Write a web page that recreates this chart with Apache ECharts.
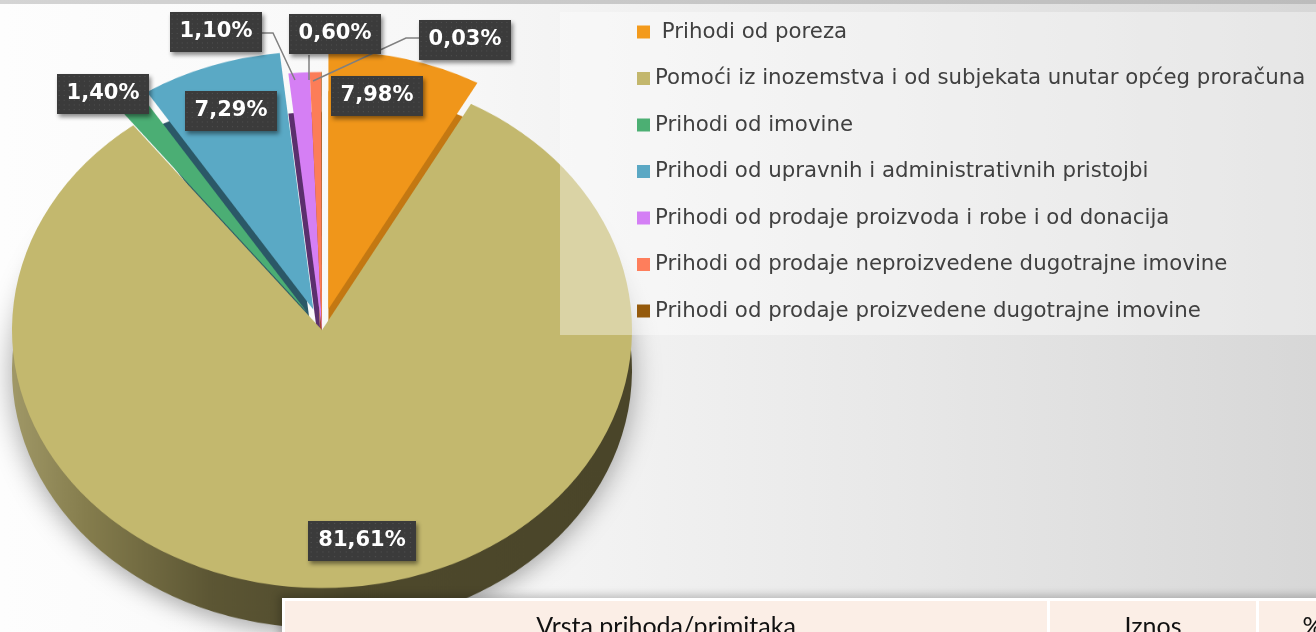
<!DOCTYPE html>
<html>
<head>
<meta charset="utf-8">
<script src="https://cdn.jsdelivr.net/npm/echarts@6/dist/echarts.min.js"></script>
<style>
html,body{margin:0;padding:0;background:#fff;}
#stage{position:relative;width:1316px;height:632px;overflow:hidden;
  background:linear-gradient(90deg,#fdfdfd 0%,#f7f7f7 35%,#e8e8e8 68%,#d7d7d7 100%);}
#topbar{position:absolute;left:0;top:0;width:1316px;height:4px;background:linear-gradient(90deg,#d4d4d4,#bcbcbc);}
#pieWrap{position:absolute;left:0;top:0;width:1316px;height:760px;transform:scaleY(0.8323);transform-origin:0 0;}
#pie{width:1316px;height:760px;}
#over{position:absolute;left:0;top:0;width:1316px;height:632px;}
#tbl{position:absolute;left:282px;top:598px;width:1040px;height:44px;background:#fbeee6;
  border-top:3px solid #fff;border-left:3px solid #fff;box-shadow:-3px -3px 8px rgba(0,0,0,0.22);
  font-family:Lato,'Open Sans',sans-serif;font-size:25px;color:#111;}
#tbl .c{position:absolute;top:0;height:44px;text-align:center;padding-top:9px;box-sizing:border-box;}
</style>
</head>
<body>
<div id="stage">
  <div id="topbar"></div>
  <div id="pieWrap"><div id="pie"></div></div>
  <div id="over"></div>
  <div id="tbl">
    <div class="c" style="left:0;width:762px;">Vrsta prihoda/primitaka</div>
    <div class="c" style="left:762px;width:209px;border-left:3px solid #fff;">Iznos</div>
    <div class="c" style="left:971px;width:110px;border-left:3px solid #fff;">%</div>
  </div>
</div>
<script>
// ---- data ----
const categories = [
  ' Prihodi od poreza',
  'Pomoći iz inozemstva i od subjekata unutar općeg proračuna',
  'Prihodi od imovine',
  'Prihodi od upravnih i administrativnih pristojbi',
  'Prihodi od prodaje proizvoda i robe i od donacija',
  'Prihodi od prodaje neproizvedene dugotrajne imovine',
  'Prihodi od prodaje proizvedene dugotrajne imovine'
];
const shares = [7.98, 81.61, 1.40, 7.29, 1.10, 0.60, 0.03];

// ---- styles ----
const topColors = ['#f0961a', '#c3b86e', '#4bae74', '#5aa9c5', '#d57ff4', '#fc7d58', '#955a0c'];
const sideColors = ['#c47812', {
    type: 'linear', x: 0, y: 0, x2: 1, y2: 0,
    colorStops: [
      {offset: 0, color: '#a09867'},
      {offset: 0.12, color: '#857d4d'},
      {offset: 0.32, color: '#5c5634'},
      {offset: 0.55, color: '#4e492c'},
      {offset: 1, color: '#4a4529'}
    ]
  }, '#1e4a30', '#2b5867', '#5b2f6d', '#a8492f', '#5a3506'];
const legendColors = ['#f39a1c', '#c3b76d', '#4caf73', '#5ba8c4', '#d47ff5', '#fe7e5c', '#955a0c'];
const explodeIdx = [0, 2, 3];

const SCALE = 0.8323;
const CX = 322, CY = 330, R = 310, DEPTH = 40;

// ---- pie body (drawn in a vertically squashed container to get an ellipse) ----
const pieChart = echarts.init(document.getElementById('pie'), null, {renderer: 'canvas'});
function bodySeries(colors, cy, z, withShadow) {
  return {
    type: 'pie', z: z, radius: R, center: [CX, cy],
    startAngle: 90, clockwise: true,
    selectedMode: 'multiple', selectedOffset: 26,
    silent: true, animation: false,
    label: {show: false}, labelLine: {show: false},
    emphasis: {disabled: true},
    select: {itemStyle: {borderWidth: 0}},
    itemStyle: {borderWidth: 0},
    data: shares.map((v, i) => ({
      name: categories[i], value: v,
      selected: explodeIdx.indexOf(i) >= 0,
      itemStyle: Object.assign({color: colors[i]},
        (withShadow && i === 1) ? {shadowBlur: 28, shadowColor: 'rgba(0,0,0,0.35)', shadowOffsetY: 6} : {})
    }))
  };
}
pieChart.setOption({
  animation: false,
  series: [
    bodySeries(sideColors, (CY + DEPTH) / SCALE, 1, true),
    bodySeries(topColors, CY / SCALE, 2, false)
  ]
});

// ---- labels + legend overlay ----
const dots = document.createElement('canvas');
dots.width = 92; dots.height = 42;
(function () {
  const g = dots.getContext('2d');
  g.fillStyle = '#3b3b3b'; g.fillRect(0, 0, 92, 42);
  g.fillStyle = '#525252';
  for (let y = 2; y < 42; y += 5) for (let x = 2; x < 92; x += 5) g.fillRect(x, y, 1, 1);
})();

const labelCenters = [[377, 96], [362, 541], [103, 94], [231, 111], [216, 32], [335, 34], [465, 40]];
const leaderPoints = {
  4: [[295, 80], [273, 33], [262, 33]],
  5: [[309, 80], [309, 62], [309, 55]],
  6: [[313, 81], [406, 38], [419, 38]]
};

const over = echarts.init(document.getElementById('over'), null, {renderer: 'canvas'});
over.setOption({
  animation: false,
  legend: {
    orient: 'vertical', left: 560, top: 12,
    padding: [8, 30, 12, 77],
    itemGap: 22.5, itemWidth: 13, itemHeight: 13, icon: 'rect',
    backgroundColor: 'rgba(255,255,255,0.38)',
    selectedMode: false,
    textStyle: {fontSize: 21.3, lineHeight: 24, color: '#404040', fontFamily: 'DejaVu Sans'},
    data: categories.map((n, i) => ({name: n, itemStyle: {color: legendColors[i], opacity: 1}}))
  },
  series: [{
    type: 'pie', radius: R, center: [CX, CY],
    startAngle: 90, clockwise: true, silent: true,
    avoidLabelOverlap: false,
    itemStyle: {color: 'rgba(0,0,0,0)', borderWidth: 0},
    emphasis: {disabled: true},
    label: {
      show: true, position: 'outside',
      formatter: p => p.value.toFixed(2).replace('.', ',') + '%',
      color: '#fff', fontWeight: 'bold', fontSize: 21, fontFamily: 'DejaVu Sans',
      backgroundColor: {image: dots},
      padding: [10, 10, 9, 10],
      shadowColor: 'rgba(0,0,0,0.45)', shadowBlur: 4, shadowOffsetX: 2, shadowOffsetY: 3
    },
    labelLine: {show: true, lineStyle: {color: '#808080', width: 1.5}},
    labelLayout: function (p) {
      const c = labelCenters[p.dataIndex];
      const o = {x: c[0], y: c[1], align: 'center', verticalAlign: 'middle'};
      if (leaderPoints[p.dataIndex]) o.labelLinePoints = leaderPoints[p.dataIndex];
      return o;
    },
    data: shares.map((v, i) => ({
      name: categories[i], value: v,
      labelLine: {show: !!leaderPoints[i]}
    }))
  }]
});
</script>
</body>
</html>
